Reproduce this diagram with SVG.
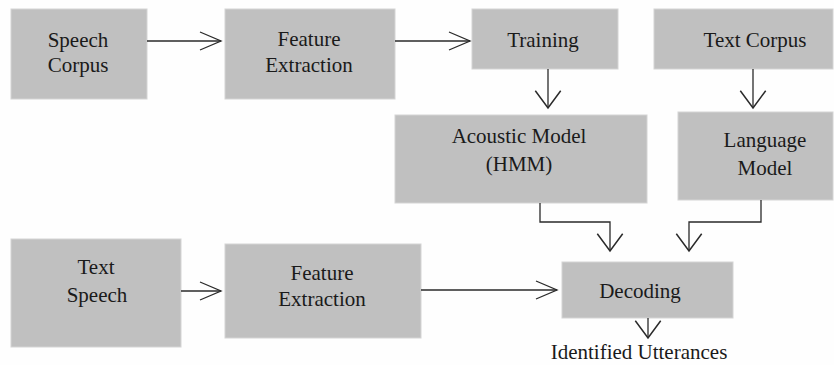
<svg xmlns="http://www.w3.org/2000/svg" width="834" height="365" viewBox="0 0 834 365">
  <style>
    .box { fill: #c0c0c0; stroke: #d4d4d4; stroke-width: 1; }
    .lbl { font-family: "Liberation Serif", "Times New Roman", serif; font-size: 21px; fill: #1a1a1a; text-anchor: middle; }
    .wire { fill: none; stroke: #2a2a2a; stroke-width: 1.3; }
    .head { fill: none; stroke: #2a2a2a; stroke-width: 1.3; stroke-linejoin: miter; }
  </style>
  <defs>
    <marker id="chevH" markerUnits="userSpaceOnUse" markerWidth="24" markerHeight="24" viewBox="-22 -12 24 24" refX="0" refY="0" orient="auto" overflow="visible">
      <path class="head" d="M-21,-9 L0,0 L-21,9"/>
    </marker>
    <marker id="chevV" markerUnits="userSpaceOnUse" markerWidth="30" markerHeight="30" viewBox="-16 -13 18 26" refX="0" refY="0" orient="auto" overflow="visible">
      <path class="head" d="M-15,-11 L0,0 L-15,11"/>
    </marker>
  </defs>
  <rect width="834" height="365" fill="#fefefe"/>

  <g id="speech-corpus">
    <rect class="box" x="11" y="9" width="136" height="90"/>
    <text class="lbl" x="78" y="47">Speech</text>
    <text class="lbl" x="78" y="72">Corpus</text>
  </g>
  <g id="feature-extraction-1">
    <rect class="box" x="225" y="9" width="170" height="90"/>
    <text class="lbl" x="309" y="46">Feature</text>
    <text class="lbl" x="309" y="72">Extraction</text>
  </g>
  <g id="training">
    <rect class="box" x="472" y="9" width="146" height="60"/>
    <text class="lbl" x="543" y="47">Training</text>
  </g>
  <g id="text-corpus">
    <rect class="box" x="654" y="9" width="179" height="60"/>
    <text class="lbl" x="755" y="47">Text Corpus</text>
  </g>
  <g id="acoustic-model">
    <rect class="box" x="395" y="115" width="252" height="88"/>
    <text class="lbl" x="519" y="143">Acoustic Model</text>
    <text class="lbl" x="519" y="171">(HMM)</text>
  </g>
  <g id="language-model">
    <rect class="box" x="678" y="112" width="155" height="88"/>
    <text class="lbl" x="765" y="147">Language</text>
    <text class="lbl" x="765" y="175">Model</text>
  </g>
  <g id="text-speech">
    <rect class="box" x="11" y="239" width="170" height="108"/>
    <text class="lbl" x="96" y="274">Text</text>
    <text class="lbl" x="97" y="302">Speech</text>
  </g>
  <g id="feature-extraction-2">
    <rect class="box" x="225" y="244" width="196" height="94"/>
    <text class="lbl" x="322" y="280">Feature</text>
    <text class="lbl" x="322" y="306">Extraction</text>
  </g>
  <g id="decoding">
    <rect class="box" x="562" y="262" width="171" height="56"/>
    <text class="lbl" x="640" y="298">Decoding</text>
  </g>
  <g id="identified-utterances">
    <text class="lbl" x="639" y="359">Identified Utterances</text>
  </g>

  <g id="connectors">
    <path class="wire" d="M147,41 H221" marker-end="url(#chevH)"/>
    <path class="wire" d="M395,41 H470" marker-end="url(#chevH)"/>
    <path class="wire" d="M548,69 V108" marker-end="url(#chevV)"/>
    <path class="wire" d="M753,69 V108" marker-end="url(#chevV)"/>
    <path class="wire" d="M540,203 V222 H610 V251" marker-end="url(#chevV)"/>
    <path class="wire" d="M761,200 V222 H689 V251" marker-end="url(#chevV)"/>
    <path class="wire" d="M181,291 H221" marker-end="url(#chevH)"/>
    <path class="wire" d="M421,290 H557" marker-end="url(#chevH)"/>
    <path class="wire" d="M648,318 V338" marker-end="url(#chevV)"/>
  </g>
</svg>
